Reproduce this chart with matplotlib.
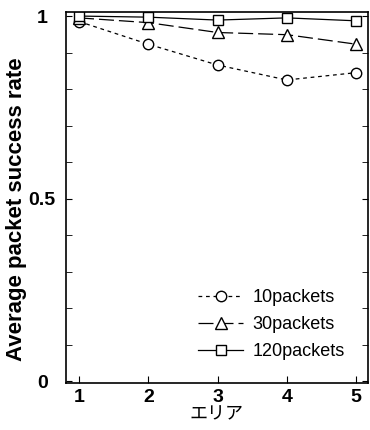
import matplotlib.pyplot as plt
from matplotlib.ticker import MultipleLocator

plt.rcParams['font.family'] = ['Liberation Sans', 'Noto Sans CJK JP', 'DejaVu Sans']

areas = [1, 2, 3, 4, 5]
p10 = [0.985, 0.923, 0.866, 0.825, 0.845]
p30 = [0.995, 0.982, 0.955, 0.949, 0.923]
p120 = [1.0, 0.997, 0.989, 0.995, 0.987]

fig = plt.figure(figsize=(3.7, 4.3), dpi=100)
ax = fig.add_axes([0.178, 0.109, 0.816, 0.863])

ax.plot(areas, p10, color='black', lw=0.9, dashes=(3, 3), marker='o', ms=7.5,
        mfc='white', mec='black', mew=1.0, label='10packets')
ax.plot(areas, p30, color='black', lw=0.9, dashes=(12, 4), marker='^', ms=8,
        mfc='white', mec='black', mew=1.0, label='30packets')
ax.plot(areas, p120, color='black', lw=0.9, marker='s', ms=7,
        mfc='white', mec='black', mew=1.0, label='120packets')

ax.set_xlim(0.81, 5.17)
ax.set_ylim(-0.005, 1.011)
ax.set_xticks(areas)
ax.set_yticks([0, 0.5, 1])
ax.set_yticklabels(['0', '0.5', '1'])
ax.yaxis.set_minor_locator(MultipleLocator(0.1))
ax.tick_params(axis='both', which='both', direction='in', labelsize=14)
ax.tick_params(axis='y', which='both', right=True, length=4)
ax.tick_params(axis='y', pad=17)
ax.tick_params(axis='x', length=5, pad=4)
for lab in ax.get_xticklabels() + ax.get_yticklabels():
    lab.set_fontweight('bold')
for lab in ax.get_yticklabels():
    lab.set_horizontalalignment('center')
for s in ax.spines.values():
    s.set_linewidth(1.2)

ax.set_xlabel('エリア', fontsize=13, family=['Noto Sans CJK JP'], labelpad=0)
ax.set_ylabel('Average packet success rate', fontsize=16, fontweight='bold', labelpad=1)
ax.yaxis.set_label_coords(-0.13, 0.47)

ax.legend(loc='lower right', frameon=False, fontsize=13, handlelength=2.5,
          handletextpad=0.5, bbox_to_anchor=(0.977, 0.019), labelspacing=0.55,
          borderpad=0.4)

fig.savefig('out.png', dpi=100)
